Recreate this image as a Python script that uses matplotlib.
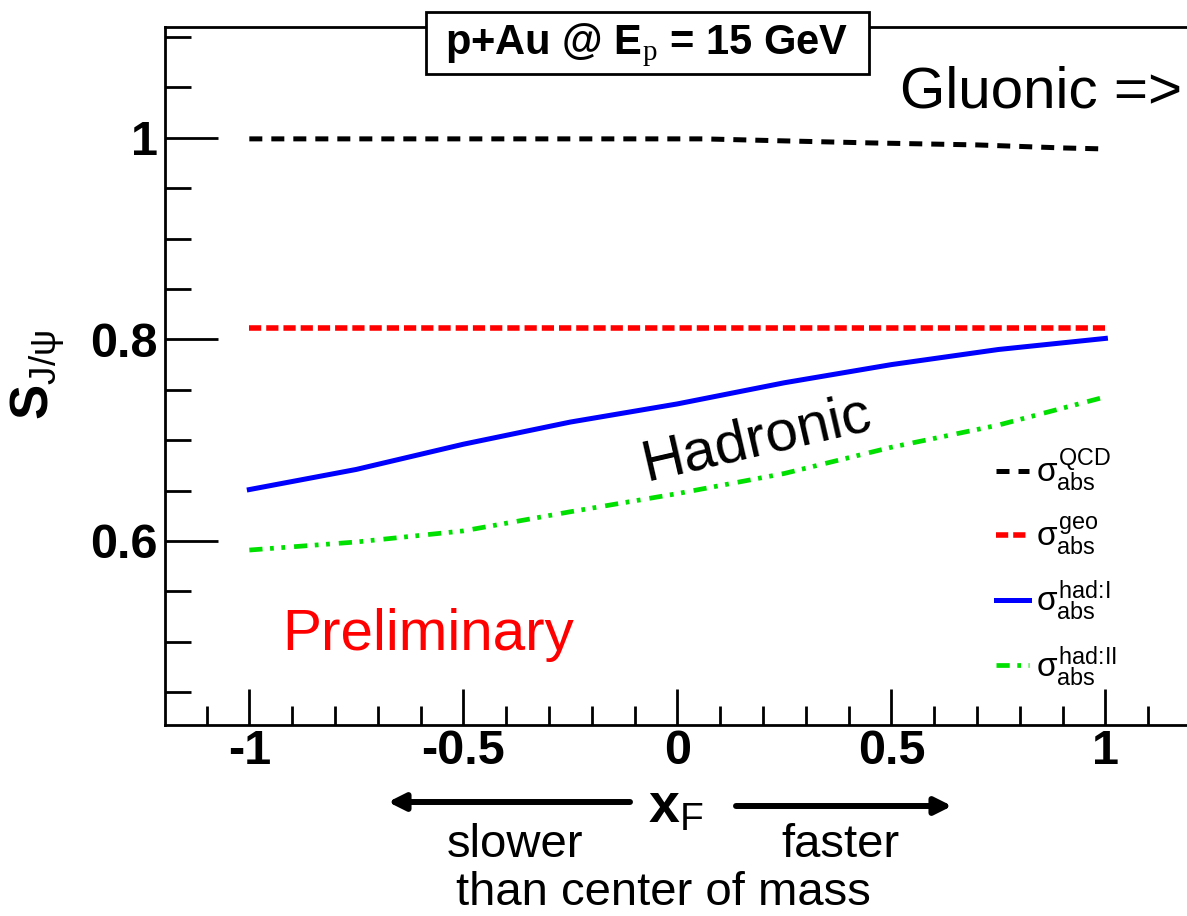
import numpy as np
import matplotlib
matplotlib.use('Agg')
import matplotlib.pyplot as plt
from matplotlib.ticker import MultipleLocator, FuncFormatter
from matplotlib.patches import Rectangle

plt.rcParams['font.family'] = ['Liberation Sans', 'DejaVu Sans']
plt.rcParams['axes.unicode_minus'] = False
plt.rcParams['mathtext.fontset'] = 'custom'
plt.rcParams['mathtext.rm'] = 'Liberation Serif'
plt.rcParams['mathtext.it'] = 'Liberation Sans'
plt.rcParams['mathtext.sf'] = 'Liberation Sans'
plt.rcParams['mathtext.bf'] = 'Liberation Sans:bold'

# J/psi survival probability vs x_F, p+Au @ 15 GeV
xf_qcd = [-1, -0.5, 0, 0.06, 0.25, 0.45, 0.7, 0.9, 1]
s_qcd = [0.999, 0.999, 0.999, 0.999, 0.997, 0.995, 0.993, 0.990, 0.989]

xf_geo = [-1, 1]
s_geo = [0.811, 0.811]

xf_had = [-1, -0.75, -0.5, -0.25, 0, 0.25, 0.5, 0.75, 1]
s_had1 = [0.651, 0.671, 0.696, 0.718, 0.736, 0.757, 0.775, 0.790, 0.801]
s_had2 = [0.591, 0.599, 0.610, 0.629, 0.647, 0.667, 0.693, 0.715, 0.743]

labels = [r'$\sigma^{\mathsf{QCD}}_{\mathsf{abs}}$',
          r'$\sigma^{\mathsf{geo}}_{\mathsf{abs}}$',
          r'$\sigma^{\mathsf{had\!:\!I}}_{\mathsf{abs}}$',
          r'$\sigma^{\mathsf{had\!:\!II}}_{\mathsf{abs}}$']

W, H = 1187, 916
fig = plt.figure(figsize=(W / 100, H / 100), dpi=100)
ax = fig.add_axes([165 / W, 1 - 725 / H, (1191 - 165) / W, (725 - 27) / H])

l1, = ax.plot(xf_qcd, s_qcd, color='black', lw=3.6, dashes=(2.6, 1.8))
l2, = ax.plot(xf_geo, s_geo, color='red', lw=4.0, dashes=(2.2, 0.9))
l3, = ax.plot(xf_had, s_had1, color='blue', lw=3.6)
l4, = ax.plot(xf_had, s_had2, color='#00e000', lw=3.4,
              dashes=(2.8, 1.6, 0.8, 1.6, 0.8, 1.9))

ax.set_xlim(-1.197, 1.2)
ax.set_ylim(0.4174, 1.110)

ax.xaxis.set_major_locator(MultipleLocator(0.5))
ax.xaxis.set_minor_locator(MultipleLocator(0.1))
ax.yaxis.set_major_locator(MultipleLocator(0.2))
ax.yaxis.set_minor_locator(MultipleLocator(0.05))
fmt = FuncFormatter(lambda v, p: '%g' % round(v, 2))
ax.xaxis.set_major_formatter(fmt)
ax.yaxis.set_major_formatter(fmt)

for s in ax.spines.values():
    s.set_linewidth(2)
ax.tick_params(which='both', direction='in', width=2, top=False, right=False)
ax.tick_params(axis='x', which='major', length=26, pad=3, labelsize=35)
ax.tick_params(axis='x', which='minor', length=13.5)
ax.tick_params(axis='y', which='major', length=38, pad=5, labelsize=35)
ax.tick_params(axis='y', which='minor', length=19)
for t in ax.get_xticklabels() + ax.get_yticklabels():
    t.set_fontweight('bold')

leg = ax.legend([l1, l2, l3, l4], labels, loc='upper left',
                bbox_to_anchor=(996 / W, 1 - 447 / H), bbox_transform=fig.transFigure,
                frameon=False, fontsize=24, handlelength=1.0, handletextpad=0.2,
                labelspacing=0.62, borderpad=0, borderaxespad=0)

# title box
fig.patches.append(Rectangle((426 / W, 1 - 74 / H), (869 - 426) / W, (74 - 12) / H,
                             transform=fig.transFigure, facecolor='white',
                             edgecolor='black', lw=2, zorder=5))
fig.text(647 / W, 1 - 45 / H, r'p+Au @ E$_{\mathrm{p}}$ = 15 GeV', fontsize=30,
         fontweight='bold', ha='center', va='center', zorder=6)

fig.text(900 / W, 1 - 107 / H, 'Gluonic =>', fontsize=42, ha='left', va='baseline')
ax.text(757 / W, 1 - 440 / H, 'Hadronic', fontsize=42, rotation=13,
        ha='center', va='center', transform=fig.transFigure)
fig.text(282 / W, 1 - 650 / H, 'Preliminary', fontsize=42, color='red',
         ha='left', va='baseline')

# axis labels
fig.text(38 / W, 1 - 375 / H, r'$\mathbf{S}_{\mathsf{J/\psi}}$', fontsize=38,
         rotation=90, ha='center', va='center')
fig.text(676 / W, 1 - 808 / H, r'$\mathbf{x}_{\mathsf{F}}$', fontsize=40,
         ha='center', va='center')

# direction arrows
ax.annotate('', xy=(388, H - 802), xytext=(630, H - 802), xycoords='figure pixels',
            textcoords='figure pixels', annotation_clip=False,
            arrowprops=dict(arrowstyle='-|>,head_length=1.0,head_width=0.5',
                            lw=4.3, color='black', shrinkA=0, shrinkB=0))
ax.annotate('', xy=(952, H - 806), xytext=(736, H - 806), xycoords='figure pixels',
            textcoords='figure pixels', annotation_clip=False,
            arrowprops=dict(arrowstyle='-|>,head_length=1.0,head_width=0.5',
                            lw=4.3, color='black', shrinkA=0, shrinkB=0))

fig.text(515 / W, 1 - 845 / H, 'slower', fontsize=34, ha='center', va='center')
fig.text(840 / W, 1 - 845 / H, 'faster', fontsize=34, ha='center', va='center')
fig.text(663 / W, 1 - 893 / H, 'than center of mass', fontsize=34, ha='center', va='center')

fig.savefig('out.png', dpi=100)
